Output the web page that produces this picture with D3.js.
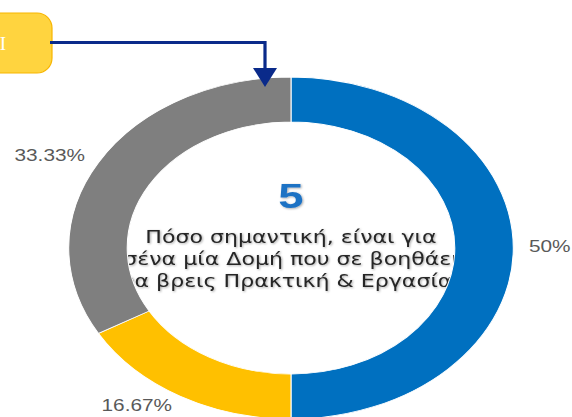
<!DOCTYPE html>
<html><head><meta charset="utf-8">
<script src="https://cdn.jsdelivr.net/npm/d3@7"></script>
<style>html,body{margin:0;padding:0;background:#fff;}svg{display:block;}</style>
</head><body>
<svg id="c" width="572" height="417"></svg>
<script>
const categories = ["Πολύ σημαντική", "Λίγο σημαντική", "Σημαντική"];
const values = [50, 16.67, 33.33];
const valueLabels = ["50%", "16.67%", "33.33%"];
const colors = ["#0070C0", "#FFC000", "#7F7F7F"];
const centerNumber = "5";
const questionLines = ["Πόσο σημαντική, είναι για", "σένα μία Δομή που σε βοηθάει", "να βρεις Πρακτική & Εργασία;"];
const boxText = "I";

const svg = d3.select("#c");
const defs = svg.append("defs");
const f = defs.append("filter").attr("id", "sh").attr("x", "-10%").attr("y", "-30%").attr("width", "120%").attr("height", "160%");
f.append("feDropShadow").attr("dx", 0.8).attr("dy", 0.8).attr("stdDeviation", 0.8).attr("flood-color", "#000").attr("flood-opacity", 0.35);

const sx = 1.3;
const cx = 291, cy = 248, rOuter = 171, rInner = 126, rLabel = 183;

// top-left box and arrow
svg.append("rect").attr("x", -40).attr("y", 13).attr("width", 92).attr("height", 60)
  .attr("rx", 15).attr("fill", "#FFD43F").attr("stroke", "#F7B500").attr("stroke-width", 1.2);
svg.append("text").attr("x", 3).attr("y", 50).attr("text-anchor", "middle")
  .attr("font-family", "Liberation Serif, serif").attr("font-size", 19).attr("fill", "#fff").text(boxText);
svg.append("path").attr("d", "M50,42.5 H265 V72").attr("fill", "none")
  .attr("stroke", "#0A2A8A").attr("stroke-width", 3.2);

const g = svg.append("g").attr("transform", `translate(${cx},${cy}) scale(${sx},1)`);

// center text (drawn first so ring overlaps)
g.append("text").attr("x", 0).attr("y", -40).attr("text-anchor", "middle")
  .attr("font-family", "Liberation Sans, Arial, sans-serif").attr("font-weight", "bold")
  .attr("font-size", 35).attr("fill", "#1F72C4").attr("filter", "url(#sh)").text(centerNumber);
g.selectAll("text.q").data(questionLines).join("text").attr("class", "q")
  .attr("x", 0).attr("y", (d, i) => -5 + i * 22).attr("text-anchor", "middle")
  .attr("font-family", "DejaVu Sans, sans-serif").attr("font-size", 17)
  .attr("fill", "#262626").attr("filter", "url(#sh)").text(d => d);

const pie = d3.pie().sort(null).value(d => d)(values);
const arc = d3.arc().innerRadius(rInner).outerRadius(rOuter);
g.selectAll("path.s").data(pie).join("path").attr("class", "s")
  .attr("d", arc).attr("fill", (d, i) => colors[i])
  .attr("stroke", "#fff").attr("stroke-width", 0.8);

g.selectAll("text.l").data(pie).join("text").attr("class", "l")
  .each(function(d, i) {
    const a = (d.startAngle + d.endAngle) / 2;
    const x = Math.sin(a) * rLabel, y = -Math.cos(a) * rLabel;
    d3.select(this).attr("x", x).attr("y", y)
      .attr("text-anchor", x > 1 ? "start" : "end")
      .attr("dominant-baseline", "middle");
  })
  .attr("font-family", "Liberation Sans, Arial, sans-serif").attr("font-size", 16)
  .attr("fill", "#595959").text((d, i) => valueLabels[i]);

// arrowhead on top of ring
svg.append("path").attr("d", "M253,68 L277,68 L265,87 Z").attr("fill", "#0A2A8A");
</script>
</body></html>
